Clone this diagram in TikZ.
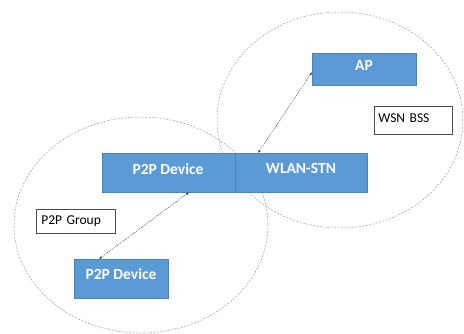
\documentclass[tikz,border=0pt]{standalone}
\usepackage{fontspec}
\setmainfont{Carlito}
\usetikzlibrary{arrows.meta}
\definecolor{boxblue}{HTML}{5B9BD5}
\begin{document}
\begin{tikzpicture}[
  x=1pt, y=-1pt,
  unit/.style={fill=boxblue, draw=boxblue!85!black, line width=0.3pt,
               anchor=north west, inner sep=0pt},
  unittext/.style={text=white, font=\bfseries\fontsize{15.5}{17}\selectfont},
  tag/.style={draw=black!70, line width=0.6pt, fill=white,
              font=\fontsize{13.5}{15}\selectfont, anchor=north west,
              inner sep=0pt, text width=#1, align=left},
  area/.style={draw=black!40, line width=0.5pt, dash pattern=on 2pt off 1.5pt},
  link/.style={draw=black!75, line width=0.5pt, dash pattern=on 1pt off 1pt,
               {Latex[length=3pt,width=2.5pt]}-{Latex[length=3pt,width=2.5pt]}},
]
\useasboundingbox (0,0) rectangle (464,334);

% the two groups
\draw[area] (340,120) ellipse [x radius=123pt, y radius=108pt];
\draw[area] (141,225) ellipse [x radius=127pt, y radius=108pt];

\node[unit, minimum width=104pt, minimum height=32pt] (ap)   at (312,53)  {};
\node[unit, minimum width=133pt, minimum height=39pt] (dev)  at (102,153) {};
\node[unit, minimum width=132pt, minimum height=39pt] (stn)  at (235,153) {};
\node[unit, minimum width=94pt,  minimum height=39pt] (peer) at (74,259)  {};
\node[unittext] (aptext)   at (364,65)  {AP};
\node[unittext] (devtext)  at (168,169) {P2P Device};
\node[unittext] (stntext)  at (301,168) {WLAN-STN};
\node[unittext] (peertext) at (121,274) {P2P Device};

\node[tag=78pt, minimum height=28pt] (bss) at (374,106)
  {\hspace*{4pt}\raisebox{5pt}{WSN BSS}};
\node[tag=79pt, minimum height=24pt] (grp) at (36,209)
  {\hspace*{5pt}P2P Group};

\draw[link] ([xshift=23pt]stn.north west) -- ([yshift=-3pt]ap.west);
\draw[link] ([xshift=87pt]dev.south west) -- ([xshift=25pt]peer.north west);
\end{tikzpicture}
\end{document}
